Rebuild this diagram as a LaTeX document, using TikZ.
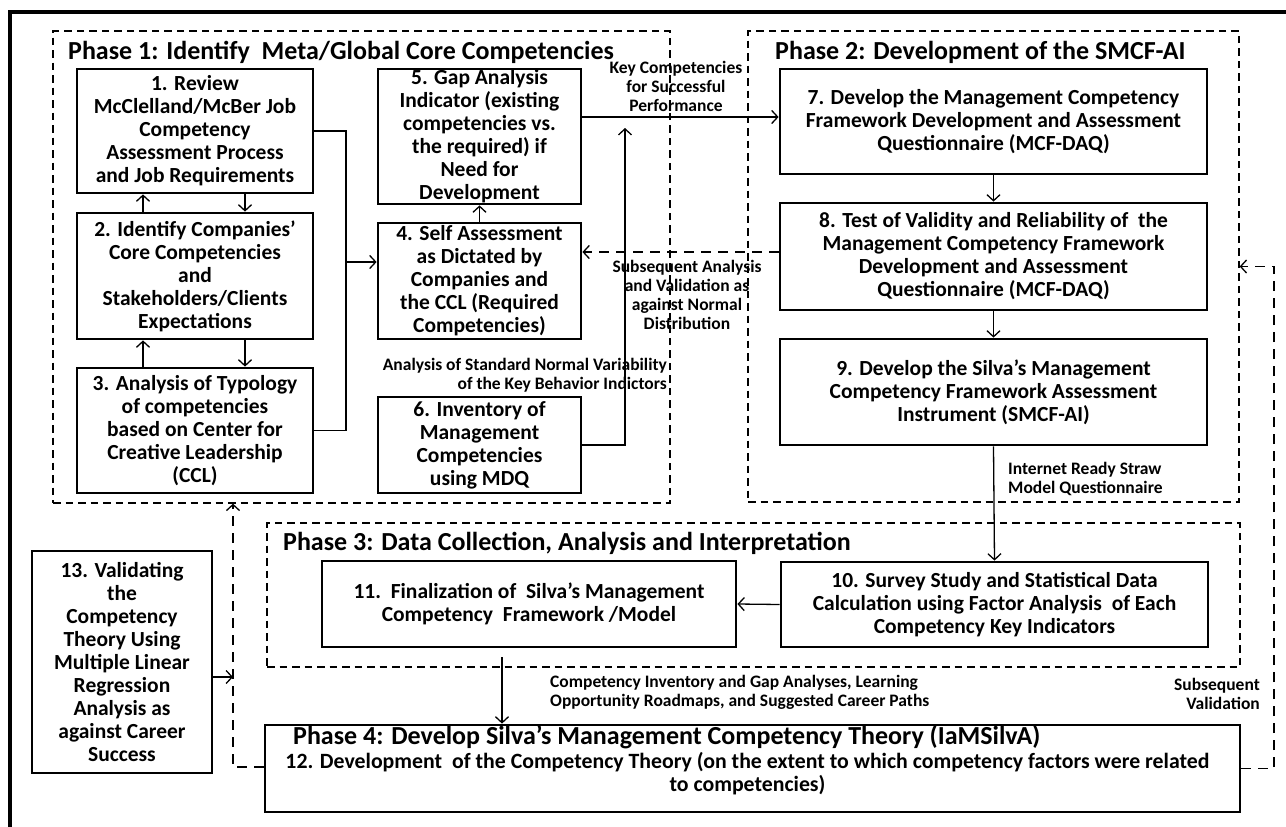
\documentclass[tikz,border=0pt]{standalone}
\usepackage{fontspec}
\setmainfont{Carlito}
\usetikzlibrary{arrows.meta}
\tikzset{
  box/.style={draw, line width=2.8pt, inner sep=0pt, align=center, font=\fontsize{21.5}{23}\selectfont\bfseries},
  phase/.style={draw, line width=1.3pt, dash pattern=on 7.5pt off 5pt, inner sep=0pt},
  conn/.style={line width=1.3pt},
  arr/.style={conn, -{Straight Barb[length=6pt,width=13pt]}},
  darr/.style={arr, dash pattern=on 10pt off 7pt},
  lbl/.style={font=\fontsize{17.5}{19}\selectfont\bfseries, inner sep=0pt, align=center},
  slbl/.style={font=\fontsize{17.5}{18.5}\selectfont\bfseries, inner sep=0pt},
  ptitle/.style={font=\fontsize{26}{28}\selectfont\bfseries, inner sep=0pt, anchor=west},
  desc/.style={font=\fontsize{21.8}{23}\selectfont\bfseries, inner sep=0pt, align=center},
}
\begin{document}
\begin{tikzpicture}[x=1pt,y=-1pt]
\useasboundingbox (0,0) rectangle (1286,827);
\clip (0,0) rectangle (1286,827);
% outer frame
\draw[line width=3.5pt] (10,12) rectangle (1310,850);

% phase boxes
\node[phase, minimum width=617pt, minimum height=472pt] (p1) at (361.5,267) {};
\node[phase, minimum width=491pt, minimum height=471pt] (p2) at (993.5,266.5) {};
\node[phase, minimum width=973pt, minimum height=144pt] (p3) at (753.5,595) {};

\node[ptitle] (t1) at (68,52) {Phase 1: Identify\ \ Meta/Global Core Competencies};
\node[ptitle] (t2) at (775,52) {Phase 2: Development of the SMCF-AI};
\node[ptitle] (t3) at (283,543) {Phase 3: Data Collection, Analysis and Interpretation};

% Phase 1 boxes
\node[box, minimum width=236pt, minimum height=124pt] (b1) at (195,131) {1. Review\\McClelland/McBer Job\\Competency\\Assessment Process\\and Job Requirements};
\node[box, minimum width=236pt, minimum height=126pt] (b2) at (195,276) {2. Identify Companies’\\Core Competencies\\and\\Stakeholders/Clients\\Expectations};
\node[box, minimum width=236pt, minimum height=125pt] (b3) at (195,430.5) {3. Analysis of Typology\\of competencies\\based on Center for\\Creative Leadership\\(CCL)};
\node[box, minimum width=203pt, minimum height=135pt] (b5) at (479.5,136.5) {5. Gap Analysis\\Indicator (existing\\competencies vs.\\the required) if\\Need for\\Development};
\node[box, minimum width=203pt, minimum height=116pt] (b4) at (479.5,281) {4. Self Assessment\\as Dictated by\\Companies and\\the CCL (Required\\Competencies)};
\node[box, minimum width=203pt, minimum height=96pt] (b6) at (479.5,445) {6. Inventory of\\Management\\Competencies\\using MDQ};

% Phase 2 boxes
\node[box, minimum width=427pt, minimum height=105pt] (b7) at (993.5,121.5) {7. Develop the Management Competency\\Framework Development and Assessment\\Questionnaire (MCF-DAQ)};
\node[box, minimum width=427pt, minimum height=107pt] (b8) at (993.5,256.5) {8. Test of Validity and Reliability of\ \ the\\Management Competency Framework\\Development and Assessment\\Questionnaire (MCF-DAQ)};
\node[box, minimum width=427pt, minimum height=106pt] (b9) at (993.5,392) {9. Develop the Silva’s Management\\Competency Framework Assessment\\Instrument (SMCF-AI)};

% Phase 3 boxes
\node[box, minimum width=427pt, minimum height=85pt] (b10) at (994.5,604.5) {10. Survey Study and Statistical Data\\Calculation using Factor Analysis\ \ of Each\\Competency Key Indicators};
\node[box, minimum width=414pt, minimum height=86pt] (b11) at (529,604) {11.\ \ Finalization of\ \ Silva’s Management\\Competency\ \ Framework /Model};

% Phase 4 box
\node[box, minimum width=975pt, minimum height=87pt] (b12) at (752.5,768.5) {};
\node[ptitle] (t4) at (293,737) {Phase 4: Develop Silva’s Management Competency Theory (IaMSilvA)};
\node[desc] (d12) at (747.5,773.5) {12. Development\ \ of the Competency Theory (on the extent to which competency factors were related\\to competencies)};

% box 13
\node[box, minimum width=180pt, minimum height=222pt] (b13) at (122,662) {13. Validating\\the\\Competency\\Theory Using\\Multiple Linear\\Regression\\Analysis as\\against Career\\Success};

% connectors phase 1
\draw[arr] ([xshift=-52pt]b2.north) -- ([xshift=-52pt]b1.south);
\draw[arr] ([xshift=50pt]b1.south) -- ([xshift=50pt]b2.north);
\draw[arr] ([xshift=-52pt]b3.north) -- ([xshift=-52pt]b2.south);
\draw[arr] ([xshift=50pt]b2.south) -- ([xshift=50pt]b3.north);
\coordinate (j1) at (346,262);
\draw[conn] (b1.east) -| (j1) |- (b3.east);
\draw[arr] (j1) -- (j1 -| b4.west);
\draw[arr] (b4.north) -- (b5.south);
\coordinate (k1) at (625,128);
\draw[arr] (b6.east) -| (k1);

% connectors to phase 2
\draw[arr] ([yshift=19.5pt]b5.east) coordinate (g1) -- (g1 -| b7.west);
\draw[darr] ([yshift=4.5pt]b8.west) coordinate (g2) -- (g2 -| b4.east);
\draw[arr] (b7.south) -- (b8.north);
\draw[arr] (b8.south) -- (b9.north);
\draw[arr] (b9.south) -- (b10.north);
\draw[arr] (b10.west) -- (b11.east);

% phase 3 to phase 4
\coordinate (p3o) at (502,657);
\draw[arr] (p3o) -- (p3o |- b12.north);

% box 13 and phase 4 feedback
\coordinate (d1) at (233,677);
\draw[arr] (b13.east |- d1) -- (d1);
\draw[darr] ([yshift=1.5pt]b12.west) -| (p1.south -| d1);
\coordinate (sv) at (1274,0);
\draw[darr] (b12.east) -| (sv |- p2.east) -- (p2.east);

% labels
\node[lbl] (l1) at (676,86) {Key Competencies\\for Successful\\Performance};
\node[lbl] (l2) at (687,294.5) {Subsequent Analysis\\and Validation as\\against Normal\\Distribution};
\node[lbl, align=right, anchor=east] (l3) at (667,375.5) {Analysis of Standard Normal Variability\\of the Key Behavior Indictors};
\node[slbl, align=left, anchor=west] (l4) at (1008,479) {Internet Ready Straw\\Model Questionnaire};
\node[slbl, align=left, anchor=west] (l5) at (550,692.5) {Competency Inventory and Gap Analyses, Learning\\Opportunity Roadmaps, and Suggested Career Paths};
\node[lbl, align=right, anchor=east] (l6) at (1260,693.5) {Subsequent\\Validation};
\end{tikzpicture}
\end{document}
